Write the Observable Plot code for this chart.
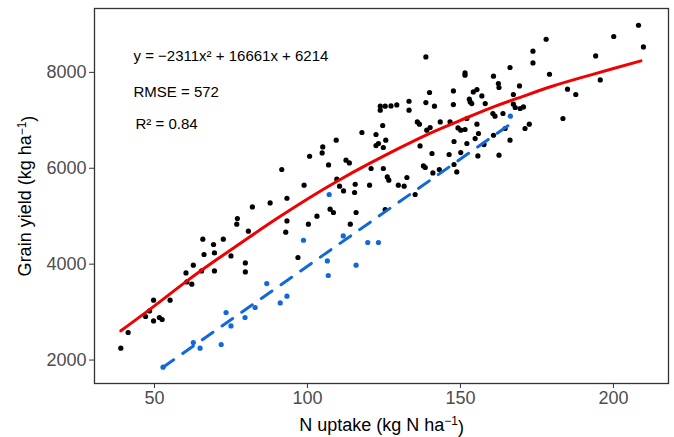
<!DOCTYPE html>
<html><head><meta charset="utf-8">
<script src="https://cdn.jsdelivr.net/npm/d3@7"></script>
<script src="https://cdn.jsdelivr.net/npm/@observablehq/plot@0.6"></script>
<style>
body{margin:0;background:#fff}
#chart{width:674px;height:437px}
</style>
</head><body><div id="chart"></div>
<script>
// Observed points (black)
const blackX = [39.0,41.4,47.1,48.4,49.7,49.7,51.6,52.5,55.1,60.3,
60.6,62.2,62.7,65.4,66.2,65.8,69.3,69.6,69.6,72.5,
75.0,76.9,77.1,79.7,79.7,80.7,82.0,87.8,93.3,92.9,
96.9,100.3,103.1,107.4,108.5,109.4,105.0,104.8,100.7,106.9,
91.6,98.9,93.3,110.5,109.6,138.7,115.9,117.8,112.6,113.7,
111.8,115.6,115.4,120.3,120.8,122.4,122.4,123.2,124.6,124.8,
125.6,124.8,126.1,126.6,129.7,131.6,132.5,125.4,114.0,135.2,
136.8,135.9,136.6,133.2,133.2,139.9,138.7,141.5,123.8,125.4,
127.3,129.2,123.8,140.7,137.9,138.5,141.0,143.1,139.0,140.1,
143.4,146.6,146.3,147.9,148.8,147.9,150.1,147.7,147.7,149.2,
150.1,151.5,152.1,151.5,151.5,152.9,153.2,153.7,154.2,155.4,
157.0,158.1,155.4,155.9,154.8,157.7,155.7,152.1,160.8,162.4,
162.6,160.6,161.3,163.9,162.6,160.8,164.6,166.2,167.3,167.3,
167.9,169.3,169.5,170.6,166.2,171.1,172.5,173.7,173.7,178.0,
179.1,183.5,185.0,187.7,194.2,195.7,200.1,208.2,209.8];
const blackY = [2247,2575,2908,3025,3248,2816,2887,2846,3248,3818,
3630,3582,3978,3859,4201,4520,4410,4235,3859,4520,
4172,4833,4952,4026,3838,4687,5194,5277,4902,4666,
4139,4833,5000,5146,5077,6585,6445,6320,6251,6070,
5974,5647,5375,5626,5772,8322,5077,6746,6168,6112,
5528,5667,5494,5647,5995,6704,6474,6516,6892,6433,
6585,5995,5820,5751,5647,5626,5807,5140,4833,5453,
6466,6967,6919,7398,7211,7580,7371,7294,7294,7294,
7300,7321,7211,6308,6049,6016,5903,5974,6794,6850,
6967,6967,6287,6558,5924,6078,6328,7613,7329,6841,
6794,6808,7038,7988,7941,7440,7384,7350,7592,7642,
7509,7350,6919,6725,6620,6495,6258,6516,7920,7767,
7684,7142,7086,7142,6272,6689,6829,8101,7538,7336,
7267,7717,7246,7279,6585,6829,6919,8441,8197,8691,
7961,7038,7649,7538,8343,7843,8748,8983,8531];

// Blue points
const blueX = [52.8,62.7,64.9,71.8,73.4,75.0,79.6,82.9,86.7,91.1,93.3,98.7,106.5,106.8,107.1,111.7,115.9,119.7,123.2,166.3];
const blueY = [1851,2366,2247,2324,2992,2712,2887,3096,3596,3192,3332,4499,4068,3763,5453,4589,3978,4452,4452,7086];

// Red fitted curve
const fitX = [39,50,60,70,80,90,100,110,120,130,140,150,160,170,180,190,200,209];
const fitY = [2610,3130,3620,4080,4520,4950,5360,5740,6090,6420,6730,7000,7260,7490,7710,7900,8080,8240];

// Blue dashed line ends
const lineX = [52.8, 166.3];
const lineY = [1850, 6920];

const xTicks = [50,100,150,200];
const yTicks = [2000,4000,6000,8000];
const labels = ["y = \u22122311x\u00B2 + 16661x + 6214", "RMSE = 572", "R\u00B2 = 0.84"];

const black = blackX.map((x,i)=>({x, y: blackY[i]}));
const blue = blueX.map((x,i)=>({x, y: blueY[i]}));
const fit = fitX.map((x,i)=>({x, y: fitY[i]}));
const bline = lineX.map((x,i)=>({x, y: lineY[i]}));

const FONT = "'Liberation Sans', Arial, Helvetica, sans-serif";
const BLUE = "#1168D8";
const RED = "#F00000";

const svg = Plot.plot({
  width: 674,
  height: 437,
  marginLeft: 94,
  marginRight: 6,
  marginTop: 8,
  marginBottom: 54,
  style: {fontFamily: FONT, fontSize: "18px", background: "#fff", overflow: "visible"},
  x: {domain: [30.4, 218.0]},
  y: {domain: [1511, 9332]},
  marks: [
    Plot.frame({stroke: "#333", strokeWidth: 1.3}),
    Plot.axisX({ticks: xTicks, tickFormat: d => String(d), tickSize: 5, tickPadding: 3, stroke: "#333", color: "#4d4d4d", fontSize: 18, label: "N uptake (kg N ha-1)", labelAnchor: "center", labelOffset: 47}),
    Plot.axisY({ticks: yTicks, tickFormat: d => String(d), tickSize: 5, tickPadding: 3, stroke: "#333", color: "#4d4d4d", fontSize: 18, label: "Grain yield (kg ha-1)", labelAnchor: "center", labelOffset: 76}),
    Plot.dot(black, {x: "x", y: "y", r: 2.6, fill: "#000", stroke: "none"}),
    Plot.dot(blue, {x: "x", y: "y", r: 2.6, fill: BLUE, stroke: "none"}),
    Plot.line(fit, {x: "x", y: "y", stroke: RED, strokeWidth: 3, curve: "natural"}),
    Plot.line(bline, {x: "x", y: "y", stroke: BLUE, strokeWidth: 3, strokeDasharray: "13,11"}),
    Plot.text([labels[0]], {text: d => d, frameAnchor: "top-left", dx: 39, dy: 42, textAnchor: "start", fontSize: 15, fill: "#000"}),
    Plot.text([labels[1]], {text: d => d, frameAnchor: "top-left", dx: 39, dy: 78, textAnchor: "start", fontSize: 15, fill: "#000"}),
    Plot.text([labels[2]], {text: d => d, frameAnchor: "top-left", dx: 41, dy: 110, textAnchor: "start", fontSize: 15, fill: "#000"})
  ]
});

const S = d3.select(svg);
// force tick label sizes
S.selectAll('g[aria-label="x-axis tick label"], g[aria-label="y-axis tick label"]').attr("font-size", "18px").attr("fill", "#4d4d4d");
S.selectAll('g[aria-label="x-axis tick label"] text, g[aria-label="y-axis tick label"] text').attr("font-size", "18px");

// superscripts in axis titles
function superLabel(sel, before, sup, after) {
  const t = S.select(sel);
  if (t.empty()) return;
  t.text(null);
  t.attr("font-size", "18px").attr("fill", "#000");
  t.append("tspan").text(before);
  t.append("tspan").attr("dy", "-0.45em").attr("font-size", "12px").text(sup);
  t.append("tspan").attr("dy", "0.45em").text(after);
}
superLabel('g[aria-label="x-axis label"] text', "N uptake (kg N ha", "\u22121", ")");
superLabel('g[aria-label="y-axis label"] text', "Grain yield (kg ha", "\u22121", ")");
S.selectAll('g[aria-label="x-axis label"], g[aria-label="y-axis label"]').attr("fill", "#000").attr("font-size", "18px");

document.getElementById("chart").appendChild(svg);
</script>
</body></html>
